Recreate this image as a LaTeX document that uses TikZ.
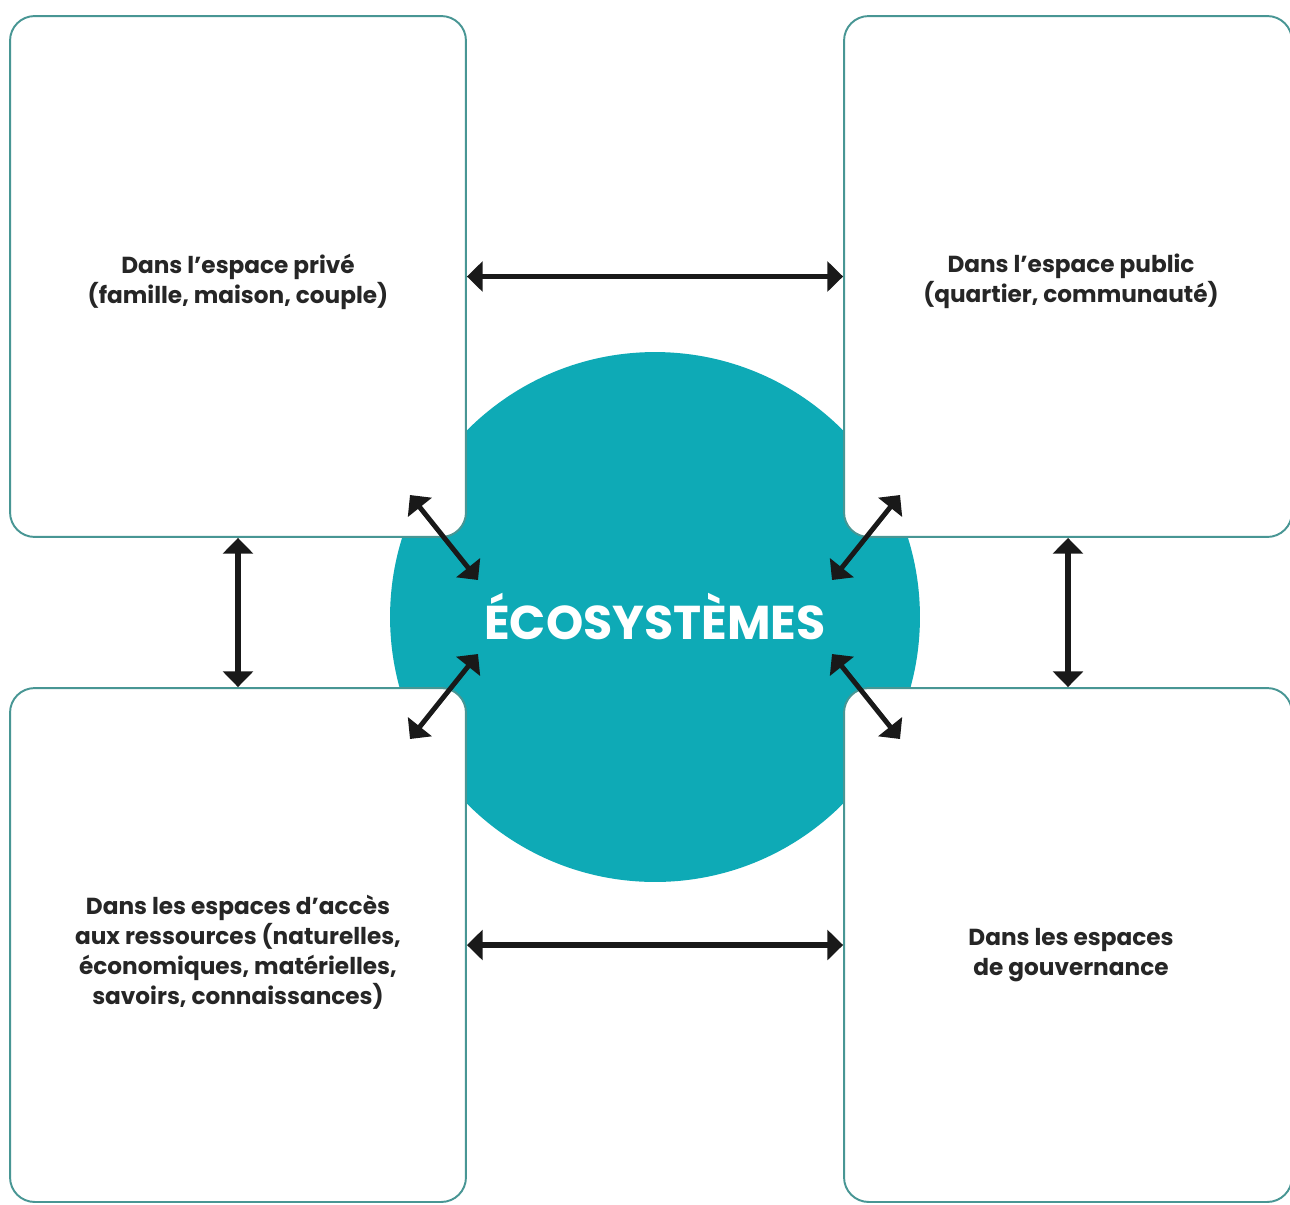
\documentclass[tikz,border=0pt]{standalone}
\usepackage{fontspec}
\setmainfont{Poppins}
\usepackage{tikz}
\usetikzlibrary{arrows.meta}
\usepackage{xcolor}
\definecolor{ecoteal}{RGB}{14,170,182}
\definecolor{boxline}{RGB}{72,150,148}

\begin{document}
\begin{tikzpicture}[x=0.02cm, y=-0.02cm,
    zone/.style={draw=boxline, line width=1.1pt, fill=white, rounded corners=14pt},
    zonetext/.style={align=center, text=black!85, font=\fontsize{13.2}{17}\selectfont\bfseries},
    twoway/.style={{Triangle[width=17pt,length=9pt]}-{Triangle[width=17pt,length=9pt]},
        line width=3.2pt, black!90}]
    \clip (0,0) rectangle (1290,1204);
    \fill[white] (0,0) rectangle (1290,1204);

    % Central circle
    \node[circle, fill=ecoteal, minimum size=10.6cm, inner sep=0pt, text=white,
        font=\fontsize{27}{30}\selectfont\bfseries] (eco) at (655,617) {ÉCOSYSTÈMES};

    % Spaces
    \node[zone, minimum width=9.12cm, minimum height=10.42cm] (prive) at (238,276.5) {};
    \node[zone, minimum width=8.96cm, minimum height=10.42cm] (public) at (1068,276.5) {};
    \node[zone, minimum width=9.12cm, minimum height=10.28cm] (acces) at (238,945) {};
    \node[zone, minimum width=8.96cm, minimum height=10.28cm] (gouv) at (1068,945) {};

    % Texts
    \node[zonetext] (priveText) at ([yshift=-0.1cm]prive.center)
        {Dans l'espace privé\\(famille, maison, couple)};
    \node[zonetext] (publicText) at ([xshift=0.06cm, yshift=-0.1cm]public.center)
        {Dans l'espace public\\(quartier, communauté)};
    \node[zonetext] (accesText) at ([yshift=-0.14cm]acces.center)
        {Dans les espaces d'accès\\aux ressources (naturelles,\\économiques, matérielles,\\savoirs, connaissances)};
    \node[zonetext] (gouvText) at ([xshift=0.06cm, yshift=-0.2cm]gouv.center)
        {Dans les espaces\\de gouvernance};

    % Links between spaces
    \draw[twoway] (prive.east) -- (public.west);
    \draw[twoway] (acces.east) -- (gouv.west);
    \draw[twoway] (prive.south) -- (acces.north);
    \draw[twoway] (public.south) -- (gouv.north);

    % Links to the ecosystems
    \foreach \n/\sx/\sy in {a/-1/-1, b/1/-1, c/-1/1, d/1/1} {
        \coordinate (out\n) at ([shift={(\sx*245,\sy*122)}]eco.center);
        \coordinate (in\n) at ([shift={(\sx*177,\sy*37)}]eco.center);
        \draw[twoway, line width=2.8pt] (out\n) -- (in\n);
    }
\end{tikzpicture}
\end{document}
